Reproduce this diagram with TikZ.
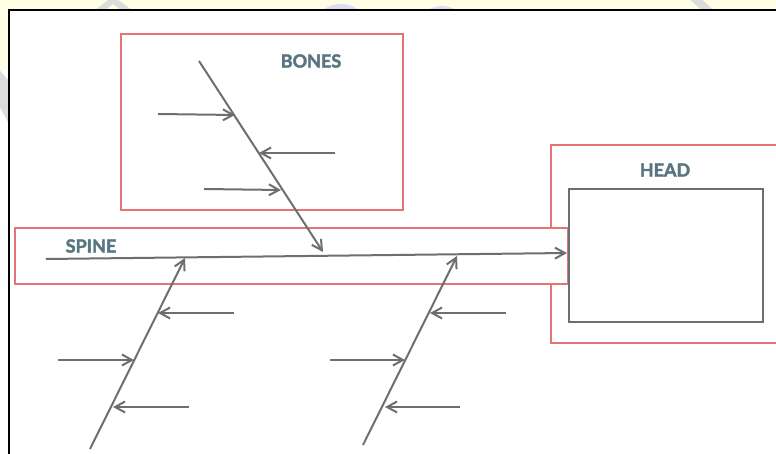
\documentclass[tikz,border=0pt]{standalone}
\usepackage{fontspec}
\setmainfont{Lato}
\newfontfamily\tagfont{Lato}[BoldFeatures={FakeBold=2.2}]
\usetikzlibrary{arrows.meta}

\definecolor{boxred}{HTML}{E27474}
\definecolor{bonegray}{HTML}{6C6F71}
\definecolor{labelblue}{HTML}{587580}
\definecolor{cream}{HTML}{FFFDE3}
\definecolor{markgray}{HTML}{DCDCDC}
\definecolor{marklilac}{HTML}{DCDCF2}

\tikzset{
  area/.style={draw=boxred, line width=1.3pt, fill=white},
  bone/.style={draw=bonegray, line width=2pt},
  rib/.style={bone, -{Straight Barb[length=10pt,width=11pt,line width=2pt]}},
  tag/.style={text=labelblue, font=\tagfont\bfseries\fontsize{18}{20}\selectfont, inner sep=0pt}
}

\begin{document}
\begin{tikzpicture}[x=1pt,y=-1pt]
  \useasboundingbox (0,0) rectangle (776,454);

  % page edge showing round the sheet
  \begin{scope}
    \clip (0,0) rectangle (776,10) (0,0) rectangle (8,130);
    \fill[cream] (0,0) rectangle (776,10) (0,0) rectangle (8,70);
    \fill[white] (0,70) rectangle (8,130);
    \fill[markgray] (90,14) -- (113,-4) -- (137,14) -- (126,14) -- (113,4) -- (100,14) -- cycle;
    \fill[marklilac] (341,34) circle (30);
    \fill[marklilac] (442,32) circle (26);
    \fill[marklilac] (520,40) circle (30);
    \fill[markgray] (688,-2) -- (700,-2) -- (718,14) -- (706,14) -- cycle;
    \fill[markgray] (-4,66) -- (8,80) -- (8,122) -- (-4,100) -- cycle;
  \end{scope}

  % frame
  \draw[line width=2pt] (776,10.5) -- (9,10.5) -- (9,456);

  % boxes
  \draw[area] (121,34) rectangle (403,210);
  \draw[area] (551,145) rectangle (790,343);
  \draw[area] (15,228) rectangle (568,284);
  \draw[draw=bonegray, line width=1.6pt, fill=white] (569,189) rectangle (763,322);

  \node[tag] (bones) at (311,61) {BONES};
  \node[tag] (head)  at (665,170) {HEAD};
  \node[tag] (spine) at (91,246) {SPINE};

  % spine
  \coordinate (tail) at (46,259);
  \coordinate (mouth) at (567,253);
  \draw[rib] (tail) -- (mouth);

  % upper bone
  \coordinate (u0) at (199,61);
  \coordinate (u1) at (323,252);
  \draw[rib] (u0) -- (u1);
  \coordinate (ua) at (158,114);  \coordinate (ub) at (235,115);
  \coordinate (uc) at (335,153);  \coordinate (ud) at (259,153);
  \coordinate (ue) at (204,189);  \coordinate (uf) at (281,190);
  \draw[rib] (ua) -- (ub);
  \draw[rib] (uc) -- (ud);
  \draw[rib] (ue) -- (uf);

  % lower left bone
  \coordinate (l0) at (90,449);
  \coordinate (l1) at (185,258);
  \draw[rib] (l0) -- (l1);
  \coordinate (la) at (234,313);  \coordinate (lb) at (158,313);
  \coordinate (lc) at (58,360);   \coordinate (ld) at (134,360);
  \coordinate (le) at (189,407);  \coordinate (lf) at (113,407);
  \draw[rib] (la) -- (lb);
  \draw[rib] (lc) -- (ld);
  \draw[rib] (le) -- (lf);

  % lower right bone
  \coordinate (r0) at (363,445);
  \coordinate (r1) at (457,256);
  \draw[rib] (r0) -- (r1);
  \coordinate (ra) at (506,313);  \coordinate (rb) at (430,313);
  \coordinate (rc) at (330,360);  \coordinate (rd) at (405,360);
  \coordinate (re) at (460,407);  \coordinate (rf) at (385,407);
  \draw[rib] (ra) -- (rb);
  \draw[rib] (rc) -- (rd);
  \draw[rib] (re) -- (rf);
\end{tikzpicture}
\end{document}
